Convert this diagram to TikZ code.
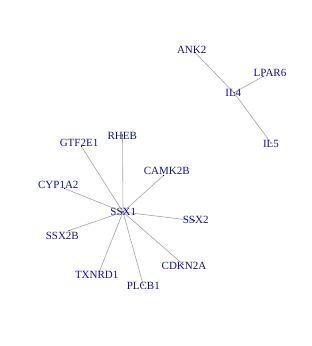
\documentclass[tikz,border=0pt]{standalone}
\usepackage{fontspec}
\setmainfont{Liberation Serif}
\definecolor{labblue}{RGB}{20,20,150}
\definecolor{edgegray}{RGB}{165,165,165}
\tikzset{
  lab/.style={text=labblue, font=\fontsize{11}{12}\selectfont, inner sep=0pt, anchor=center},
  edge/.style={draw=edgegray, line width=0.6pt},
  vdot/.style={fill=black, circle, inner sep=0pt, minimum size=1.3pt}
}
\begin{document}
\begin{tikzpicture}[x=1pt,y=-1pt]
\useasboundingbox[fill=white] (0,0) rectangle (312,346);
% vertices
\coordinate (ANK2) at (195,52.5);
\coordinate (LPAR6) at (263,76.5);
\coordinate (IL4) at (234,92.7);
\coordinate (IL5) at (271,143);
\coordinate (RHEB) at (122.5,135);
\coordinate (GTF2E1) at (81.5,146.5);
\coordinate (CAMK2B) at (163.5,175.5);
\coordinate (CYP1A2) at (64.5,188.5);
\coordinate (SSX1) at (123,212);
\coordinate (SSX2) at (194.3,220.7);
\coordinate (SSX2B) at (69,230.5);
\coordinate (CDKN2A) at (183,264.3);
\coordinate (TXNRD1) at (99.3,271.7);
\coordinate (PLCB1) at (143.3,285);
% edges
\draw[edge] (ANK2) -- (IL4);
\draw[edge] (LPAR6) -- (IL4);
\draw[edge] (IL5) -- (IL4);
\foreach \v in {RHEB,GTF2E1,CAMK2B,CYP1A2,SSX2,SSX2B,CDKN2A,TXNRD1,PLCB1}
  \draw[edge] (SSX1) -- (\v);
% dots
\foreach \v in {ANK2,LPAR6,IL4,IL5,RHEB,GTF2E1,CAMK2B,CYP1A2,SSX1,SSX2,SSX2B,CDKN2A,TXNRD1,PLCB1}
  \node[vdot] (d\v) at (\v) {};
% labels
\node[lab] (lANK2) at (191.7,50) {ANK2};
\node[lab] (lLPAR6) at (270,72.7) {LPAR6};
\node[lab] (lIL4) at (233.3,93.3) {IL4};
\node[lab] (lIL5) at (271,144) {IL5};
\node[lab] (lRHEB) at (122.3,136) {RHEB};
\node[lab] (lGTF2E1) at (79,143.3) {GTF2E1};
\node[lab] (lCAMK2B) at (166.7,171) {CAMK2B};
\node[lab] (lCYP1A2) at (58.3,185) {CYP1A2};
\node[lab] (lSSX1) at (123.3,212.3) {SSX1};
\node[lab] (lSSX2) at (195.7,220) {SSX2};
\node[lab] (lSSX2B) at (62.3,235.7) {SSX2B};
\node[lab] (lCDKN2A) at (184,265.7) {CDKN2A};
\node[lab] (lTXNRD1) at (96.7,275) {TXNRD1};
\node[lab] (lPLCB1) at (143.3,286) {PLCB1};
\end{tikzpicture}
\end{document}
